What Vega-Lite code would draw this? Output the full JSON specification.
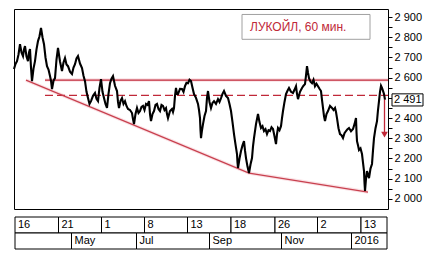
{
  "$schema": "https://vega.github.io/schema/vega-lite/v6.json",
  "background": "white",
  "padding": {"left": 9, "top": 8, "right": 0, "bottom": 0},
  "config": {
    "font": "Liberation Sans",
    "view": {"stroke": "black", "strokeWidth": 1},
    "concat": {"spacing": 6},
    "axisX": {"disable": true}
  },
  "datasets": {
    "price": [
      {"t":0,"p":2643},{"t":3,"p":2668},{"t":6,"p":2682},{"t":9,"p":2715},{"t":12,"p":2766},{"t":15,"p":2725},{"t":18,"p":2707},{"t":20,"p":2740},{"t":22,"p":2756},{"t":25,"p":2705},{"t":28,"p":2682},{"t":30,"p":2725},{"t":32,"p":2742},{"t":34,"p":2650},{"t":36,"p":2583},{"t":39,"p":2645},{"t":42,"p":2682},{"t":45,"p":2740},{"t":48,"p":2781},{"t":51,"p":2805},{"t":54,"p":2846},{"t":57,"p":2800},{"t":60,"p":2766},{"t":63,"p":2700},{"t":66,"p":2657},{"t":69,"p":2640},{"t":72,"p":2608},{"t":74,"p":2585},{"t":76,"p":2544},{"t":79,"p":2585},{"t":82,"p":2598},{"t":85,"p":2690},{"t":88,"p":2747},{"t":92,"p":2680},{"t":96,"p":2633},{"t":99,"p":2675},{"t":102,"p":2697},{"t":105,"p":2665},{"t":108,"p":2657},{"t":112,"p":2630},{"t":116,"p":2618},{"t":119,"p":2650},{"t":122,"p":2667},{"t":125,"p":2695},{"t":128,"p":2707},{"t":132,"p":2670},{"t":136,"p":2648},{"t":139,"p":2610},{"t":142,"p":2583},{"t":145,"p":2530},{"t":148,"p":2499},{"t":151,"p":2470},{"t":154,"p":2484},{"t":158,"p":2510},{"t":162,"p":2524},{"t":165,"p":2495},{"t":168,"p":2484},{"t":171,"p":2550},{"t":174,"p":2593},{"t":177,"p":2530},{"t":180,"p":2499},{"t":183,"p":2470},{"t":186,"p":2450},{"t":189,"p":2520},{"t":192,"p":2573},{"t":195,"p":2595},{"t":198,"p":2608},{"t":202,"p":2560},{"t":206,"p":2534},{"t":208,"p":2480},{"t":210,"p":2450},{"t":213,"p":2485},{"t":216,"p":2499},{"t":219,"p":2470},{"t":222,"p":2484},{"t":225,"p":2460},{"t":228,"p":2445},{"t":232,"p":2440},{"t":236,"p":2425},{"t":238,"p":2395},{"t":240,"p":2370},{"t":243,"p":2420},{"t":246,"p":2450},{"t":249,"p":2425},{"t":252,"p":2435},{"t":255,"p":2455},{"t":258,"p":2460},{"t":261,"p":2440},{"t":264,"p":2470},{"t":267,"p":2465},{"t":270,"p":2484},{"t":272,"p":2420},{"t":274,"p":2385},{"t":277,"p":2420},{"t":280,"p":2435},{"t":283,"p":2465},{"t":286,"p":2470},{"t":289,"p":2445},{"t":292,"p":2435},{"t":295,"p":2465},{"t":298,"p":2460},{"t":301,"p":2440},{"t":304,"p":2450},{"t":306,"p":2420},{"t":308,"p":2400},{"t":312,"p":2435},{"t":316,"p":2445},{"t":318,"p":2430},{"t":320,"p":2450},{"t":322,"p":2510},{"t":324,"p":2549},{"t":326,"p":2520},{"t":328,"p":2519},{"t":332,"p":2545},{"t":336,"p":2544},{"t":339,"p":2530},{"t":342,"p":2558},{"t":345,"p":2575},{"t":348,"p":2573},{"t":351,"p":2590},{"t":354,"p":2583},{"t":357,"p":2550},{"t":360,"p":2519},{"t":364,"p":2500},{"t":368,"p":2470},{"t":370,"p":2440},{"t":372,"p":2400},{"t":373,"p":2340},{"t":374,"p":2301},{"t":376,"p":2340},{"t":378,"p":2370},{"t":381,"p":2410},{"t":384,"p":2435},{"t":386,"p":2500},{"t":388,"p":2534},{"t":391,"p":2480},{"t":394,"p":2450},{"t":397,"p":2475},{"t":400,"p":2484},{"t":404,"p":2470},{"t":408,"p":2494},{"t":411,"p":2480},{"t":414,"p":2499},{"t":417,"p":2520},{"t":420,"p":2534},{"t":424,"p":2510},{"t":428,"p":2499},{"t":431,"p":2470},{"t":434,"p":2435},{"t":437,"p":2380},{"t":440,"p":2321},{"t":443,"p":2270},{"t":446,"p":2222},{"t":447,"p":2180},{"t":448,"p":2153},{"t":451,"p":2200},{"t":454,"p":2237},{"t":457,"p":2265},{"t":460,"p":2286},{"t":462,"p":2240},{"t":464,"p":2202},{"t":467,"p":2160},{"t":470,"p":2128},{"t":473,"p":2170},{"t":476,"p":2202},{"t":478,"p":2260},{"t":480,"p":2301},{"t":484,"p":2370},{"t":488,"p":2420},{"t":491,"p":2380},{"t":494,"p":2351},{"t":497,"p":2360},{"t":500,"p":2336},{"t":503,"p":2345},{"t":506,"p":2321},{"t":509,"p":2340},{"t":512,"p":2336},{"t":515,"p":2355},{"t":518,"p":2346},{"t":521,"p":2310},{"t":524,"p":2271},{"t":526,"p":2320},{"t":528,"p":2351},{"t":531,"p":2340},{"t":534,"p":2360},{"t":536,"p":2400},{"t":538,"p":2435},{"t":541,"p":2480},{"t":544,"p":2519},{"t":547,"p":2535},{"t":550,"p":2549},{"t":554,"p":2530},{"t":558,"p":2524},{"t":561,"p":2540},{"t":564,"p":2558},{"t":566,"p":2520},{"t":568,"p":2494},{"t":572,"p":2530},{"t":576,"p":2549},{"t":579,"p":2560},{"t":582,"p":2568},{"t":584,"p":2610},{"t":586,"p":2657},{"t":588,"p":2625},{"t":590,"p":2598},{"t":593,"p":2580},{"t":596,"p":2573},{"t":599,"p":2590},{"t":602,"p":2558},{"t":605,"p":2570},{"t":608,"p":2558},{"t":611,"p":2545},{"t":614,"p":2534},{"t":616,"p":2490},{"t":618,"p":2450},{"t":620,"p":2410},{"t":622,"p":2385},{"t":625,"p":2420},{"t":628,"p":2435},{"t":632,"p":2460},{"t":636,"p":2450},{"t":639,"p":2440},{"t":642,"p":2450},{"t":644,"p":2430},{"t":646,"p":2400},{"t":649,"p":2350},{"t":652,"p":2321},{"t":655,"p":2315},{"t":658,"p":2301},{"t":661,"p":2325},{"t":664,"p":2336},{"t":667,"p":2345},{"t":670,"p":2351},{"t":674,"p":2335},{"t":678,"p":2346},{"t":681,"p":2370},{"t":684,"p":2400},{"t":685,"p":2330},{"t":686,"p":2286},{"t":688,"p":2265},{"t":690,"p":2242},{"t":693,"p":2250},{"t":696,"p":2222},{"t":698,"p":2180},{"t":700,"p":2138},{"t":701,"p":2080},{"t":702,"p":2039},{"t":704,"p":2100},{"t":706,"p":2138},{"t":708,"p":2120},{"t":710,"p":2103},{"t":713,"p":2150},{"t":716,"p":2173},{"t":718,"p":2240},{"t":720,"p":2301},{"t":723,"p":2350},{"t":726,"p":2385},{"t":728,"p":2440},{"t":730,"p":2484},{"t":732,"p":2530},{"t":734,"p":2560},{"t":736,"p":2549},{"t":738,"p":2535},{"t":740,"p":2519},{"t":742,"p":2491}
    ],
    "trend": [
      {"t":24,"p":2588},{"t":470,"p":2128},{"t":708,"p":2034}
    ],
    "levels": [
      {"t":62,"t2":748,"p":2588,"kind":"solid"},
      {"t":62,"t2":748,"p":2512,"kind":"dashed"}
    ],
    "strip": [
      {"row":"d","start":2,"end":89,"label":"16"},
      {"row":"d","start":89,"end":175,"label":"21"},
      {"row":"d","start":175,"end":261,"label":"1"},
      {"row":"d","start":261,"end":347,"label":"8"},
      {"row":"d","start":347,"end":434,"label":"13"},
      {"row":"d","start":434,"end":522,"label":"18"},
      {"row":"d","start":522,"end":607,"label":"26"},
      {"row":"d","start":607,"end":694,"label":"2"},
      {"row":"d","start":694,"end":746,"label":"13"},
      {"row":"m","start":2,"end":115,"label":""},
      {"row":"m","start":115,"end":245,"label":"May"},
      {"row":"m","start":245,"end":391,"label":"Jul"},
      {"row":"m","start":391,"end":535,"label":"Sep"},
      {"row":"m","start":535,"end":675,"label":"Nov"},
      {"row":"m","start":675,"end":746,"label":"2016"}
    ]
  },
  "vconcat": [
    {
      "width": 374,
      "height": 200,
      "encoding": {
        "x": {"field": "t", "type": "quantitative", "scale": {"domain": [0, 748], "nice": false, "zero": false}, "axis": null},
        "y": {"field": "p", "type": "quantitative", "scale": {"domain": [1950, 2940], "nice": false, "zero": false},
          "axis": {"orient": "right", "title": null, "grid": false, "domain": false,
            "values": [2000,2050,2100,2150,2200,2250,2300,2350,2400,2450,2500,2550,2600,2650,2700,2750,2800,2850,2900],
            "labelExpr": "datum.value % 100 == 0 && datum.value != 2500 ? replace(format(datum.value, ','), ',', ' ') : ''",
            "tickColor": "black", "tickSize": 4, "tickWidth": 1, "labelPadding": 2, "labelFontSize": 11,
            "labelColor": "black", "labelFont": "Liberation Sans", "labelOverlap": false, "labelFlush": false}}
      },
      "layer": [
        {
          "data": {"name": "levels"},
          "transform": [{"filter": "datum.kind == 'solid'"}],
          "mark": {"type": "rule", "color": "#fae2e6", "strokeWidth": 3.5},
          "encoding": {"x2": {"field": "t2"}}
        },
        {
          "data": {"name": "trend"},
          "mark": {"type": "line", "color": "#fae2e6", "strokeWidth": 3.5},
          "encoding": {}
        },
        {
          "data": {"name": "levels"},
          "transform": [{"filter": "datum.kind == 'solid'"}],
          "mark": {"type": "rule", "color": "#c02838", "strokeWidth": 1.3},
          "encoding": {"x2": {"field": "t2"}}
        },
        {
          "data": {"name": "levels"},
          "transform": [{"filter": "datum.kind == 'dashed'"}],
          "mark": {"type": "rule", "color": "#c02838", "strokeWidth": 1.3, "strokeDash": [8, 4]},
          "encoding": {"x2": {"field": "t2"}}
        },
        {
          "data": {"name": "trend"},
          "mark": {"type": "line", "color": "#c8404e", "strokeWidth": 1.3},
          "encoding": {}
        },
        {
          "data": {"name": "price"},
          "mark": {"type": "line", "color": "black", "strokeWidth": 2.1, "strokeJoin": "miter"},
          "encoding": {}
        },
        {
          "data": {"values": [{"t": 741, "p": 2491, "p2": 2322}]},
          "mark": {"type": "rule", "color": "#c02838", "strokeWidth": 1.3},
          "encoding": {"y2": {"field": "p2"}}
        },
        {
          "data": {"values": [{"t": 741, "p": 2318}]},
          "mark": {"type": "point", "shape": "triangle-down", "filled": true, "color": "#c02838", "size": 45, "opacity": 1},
          "encoding": {}
        },
        {
          "data": {"values": [{"t": 456, "t2": 712, "p": 2913, "p2": 2790}]},
          "mark": {"type": "rect", "fill": "white", "stroke": "#a0a0a0", "strokeWidth": 1},
          "encoding": {"x2": {"field": "t2"}, "y2": {"field": "p2"}}
        },
        {
          "data": {"values": [{"t": 472, "p": 2853, "label": "ЛУКОЙЛ, 60 мин."}]},
          "mark": {"type": "text", "align": "left", "baseline": "middle", "fontSize": 12, "color": "#c02838", "font": "Liberation Sans"},
          "encoding": {"text": {"field": "label"}}
        },
        {
          "data": {"values": [{"t": 756, "t2": 818, "p": 2520, "p2": 2460}]},
          "mark": {"type": "rect", "fill": "white", "stroke": "black", "strokeWidth": 1},
          "encoding": {"x2": {"field": "t2"}, "y2": {"field": "p2"}}
        },
        {
          "data": {"values": [{"t": 760, "p": 2489, "label": "2 491"}]},
          "mark": {"type": "text", "align": "left", "baseline": "middle", "fontSize": 11, "color": "black", "font": "Liberation Sans"},
          "encoding": {"text": {"field": "label"}}
        }
      ]
    },
    {
      "width": 374,
      "height": 32,
      "view": {"stroke": null},
      "data": {"name": "strip"},
      "encoding": {
        "y": {"field": "row", "type": "nominal", "scale": {"domain": ["d", "m"], "paddingInner": 0, "paddingOuter": 0}, "axis": null}
      },
      "layer": [
        {
          "mark": {"type": "rect", "fill": "white", "stroke": "black", "strokeWidth": 1},
          "encoding": {
            "x": {"field": "start", "type": "quantitative", "scale": {"domain": [0, 748], "nice": false, "zero": false}, "axis": null},
            "x2": {"field": "end"}
          }
        },
        {
          "mark": {"type": "text", "align": "left", "baseline": "middle", "dx": 3, "fontSize": 11, "color": "black", "font": "Liberation Sans"},
          "encoding": {
            "x": {"field": "start", "type": "quantitative", "scale": {"domain": [0, 748], "nice": false, "zero": false}, "axis": null},
            "text": {"field": "label"}
          }
        }
      ]
    }
  ]
}
